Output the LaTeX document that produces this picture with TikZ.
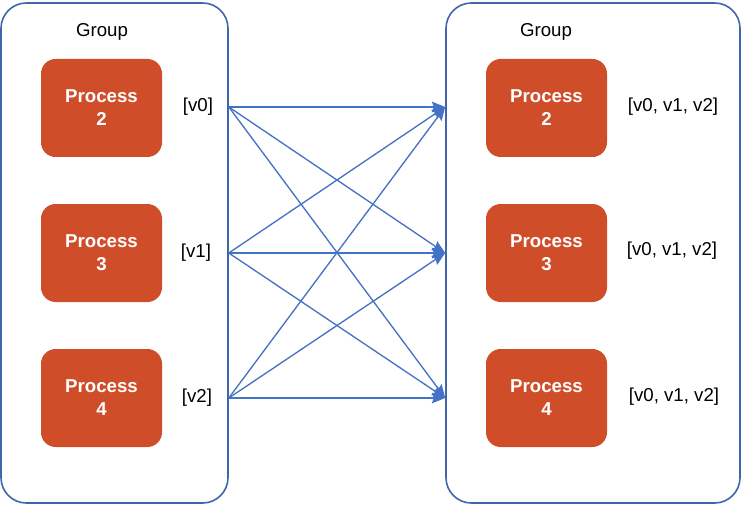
\documentclass[tikz,border=0pt]{standalone}
\usepackage{fontspec}
\setmainfont{Liberation Sans}
\usepackage{tikz}
\usetikzlibrary{arrows.meta}
\usetikzlibrary{positioning}
\definecolor{procorange}{HTML}{CF4E29}
\definecolor{groupblue}{HTML}{3F66AC}
\definecolor{sendblue}{HTML}{4472C4}
\newcommand{\labelfont}{\fontsize{14}{17.3}\selectfont}
\tikzset{group/.style = {draw=groupblue, line width=1.2pt, rounded corners=19pt,
                         minimum width=170.25pt, minimum height=375pt},
         process/.style = {fill=procorange, text=white, font=\labelfont\bfseries,
                           rounded corners=11pt, align=center,
                           minimum width=90.75pt, minimum height=73.5pt},
         send/.style = {draw=sendblue, line width=1pt,
                        -{Stealth[length=10pt, width=8pt, inset=1.5pt]}}}

\begin{document}
\begin{tikzpicture}[x=0.75pt, y=-0.75pt, font=\labelfont]
    \useasboundingbox (0,0) rectangle (742,506);

    \node[group] (gl) at (114.5,253) {};
    \node[group, minimum width=220.5pt] (gr) at (593,253) {};
    \node (tl) at (102,32) {Group};
    \node (tr) at (546,32) {Group};

    \node[process] (p2l) at (101.5,108) {Process\\2};
    \node[process] (p3l) at (101.5,253) {Process\\3};
    \node[process] (p4l) at (101.5,398) {Process\\4};
    \node[process] (p2r) at (546.5,108) {Process\\2};
    \node[process] (p3r) at (546.5,253) {Process\\3};
    \node[process] (p4r) at (546.5,398) {Process\\4};

    \node (v0) at (198,107) {[v0]};
    \node (v1) at (196,253) {[v1]};
    \node (v2) at (197,398) {[v2]};
    \node (a2) at (673,107) {[v0, v1, v2]};
    \node (a3) at (672,251) {[v0, v1, v2]};
    \node (a4) at (674,397) {[v0, v1, v2]};

    \coordinate (s0) at (gl.east |- v0);
    \coordinate (s1) at (gl.east |- v1);
    \coordinate (s2) at (gl.east |- v2);
    \coordinate (r0) at (gr.west |- v0);
    \coordinate (r1) at (gr.west |- v1);
    \coordinate (r2) at (gr.west |- v2);

    \draw[send] (s0) -- (r0);
    \draw[send] (s0) -- (r1);
    \draw[send] (s0) -- (r2);
    \draw[send] (s1) -- (r0);
    \draw[send] (s1) -- (r1);
    \draw[send] (s1) -- (r2);
    \draw[send] (s2) -- (r0);
    \draw[send] (s2) -- (r1);
    \draw[send] (s2) -- (r2);
  \end{tikzpicture}
\end{document}
